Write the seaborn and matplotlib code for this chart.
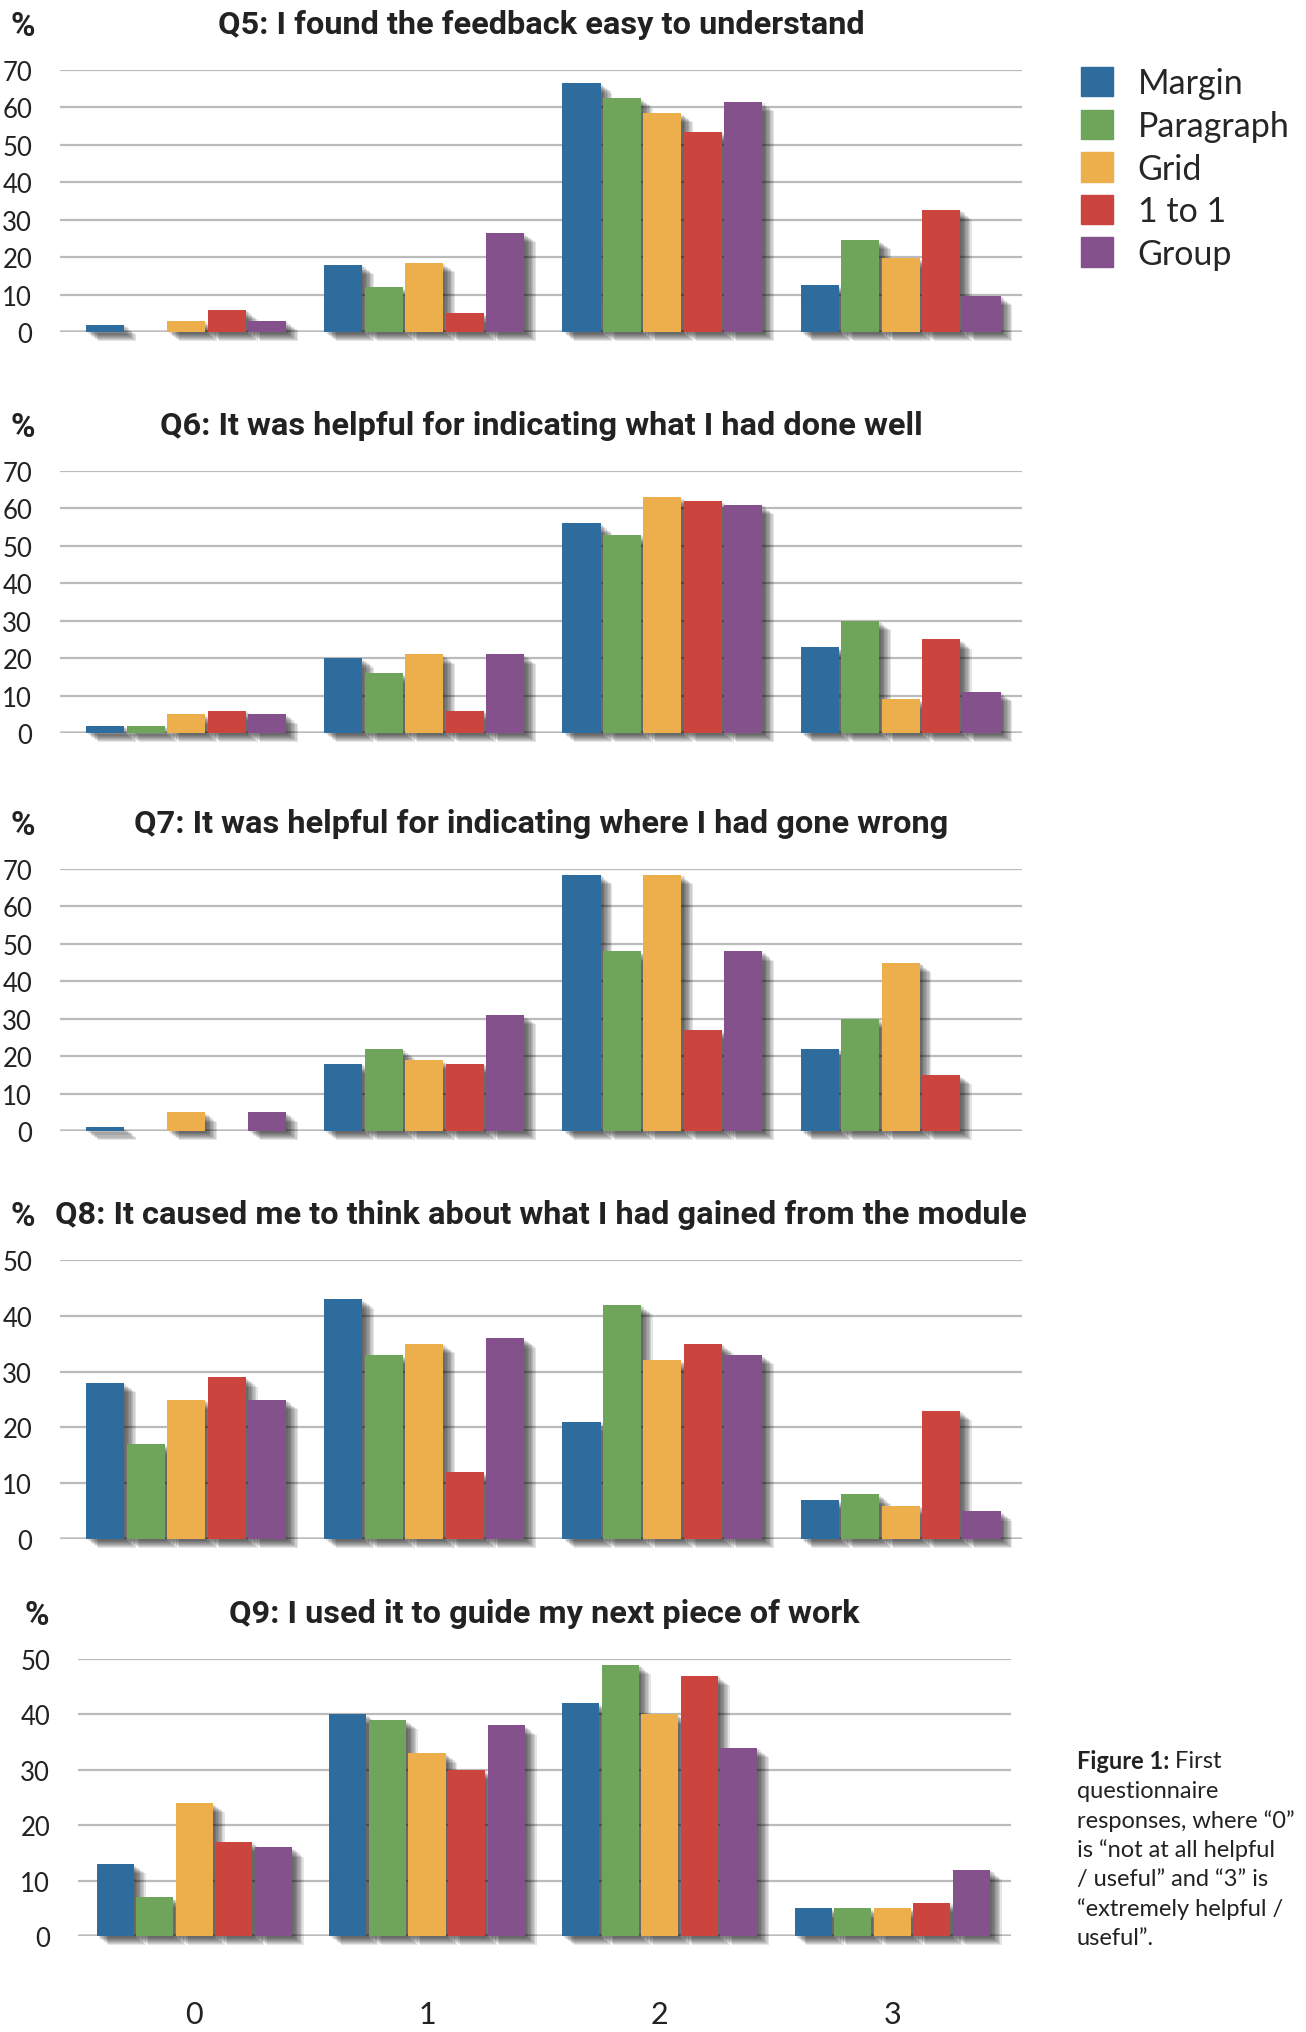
import numpy as np
import pandas as pd
import matplotlib
matplotlib.use("Agg")
import matplotlib.pyplot as plt
import matplotlib.patheffects as pe
import seaborn as sns

# feedback methods (hue) and rating categories (x)
methods = ['Margin', 'Paragraph', 'Grid', '1 to 1', 'Group']
colours = ['#2f6c9e', '#6ea55a', '#ecaf4b', '#cb443e', '#84518c']
ratings = ['0', '1', '2', '3']

# % of responses, one row per rating, columns in the order of `methods`
q5 = [[2, 0, 3, 6, 3],
      [18, 12, 18.5, 5, 26.5],
      [66.5, 62.5, 58.5, 53.5, 61.5],
      [12.6, 24.6, 19.7, 32.7, 9.7]]
q6 = [[2, 2, 5, 6, 5],
      [20, 16, 21, 6, 21],
      [56, 53, 63, 62, 61],
      [23, 30, 9, 25, 11]]
q7 = [[1, 0, 5, 0, 5],
      [18, 22, 19, 18, 31],
      [68.5, 48, 68.5, 27, 48],
      [22, 30, 45, 15, 0]]
q8 = [[28, 17, 25, 29, 25],
      [43, 33, 35, 12, 36],
      [21, 42, 32, 35, 33],
      [7, 8, 6, 23, 5]]
q9 = [[13, 7, 24, 17, 16],
      [40, 39, 33, 30, 38],
      [42, 49, 40, 47, 34],
      [5, 5, 5, 6, 12]]

titles = ['Q5: I found the feedback easy to understand',
          'Q6: It was helpful for indicating what I had done well',
          'Q7: It was helpful for indicating where I had gone wrong',
          'Q8: It caused me to think about what I had gained from the module',
          'Q9: I used it to guide my next piece of work']
questions = [q5, q6, q7, q8, q9]
ymax = [70, 70, 70, 50, 50]

caption = ['questionnaire',
           'responses, where \u201c0\u201d',
           'is \u201cnot at all helpful',
           '/ useful\u201d and \u201c3\u201d is',
           '\u201cextremely helpful /',
           'useful\u201d.']

sns.set_style('white')
plt.rcParams['font.family'] = ['Lato', 'DejaVu Sans']
TITLE_FONT = 'Roboto'

W, H = 1306, 2033
fig = plt.figure(figsize=(W / 100, H / 100), dpi=100)

# pixel boxes (left, right, top, bottom) of each panel
boxes = [(60, 1022, 71, 333),
         (60, 1022, 472, 734),
         (60, 1022, 870, 1132),
         (60, 1022, 1261, 1540),
         (78, 1011, 1660, 1937)]
xlims = [(-0.53, 3.51)] * 4 + [(-0.5, 3.51)]

shadow = [pe.SimplePatchShadow(offset=(d, -0.8 * d), shadow_rgbFace='black', alpha=0.1)
          for d in (1.5, 2.5, 3.5, 4.5, 5.5, 6.5, 7.5, 8.5)] + [pe.Normal()]

axes = []
for i, (q, title) in enumerate(zip(questions, titles)):
    l, r, t, b = boxes[i]
    ax = fig.add_axes([l / W, 1 - b / H, (r - l) / W, (b - t) / H])
    df = pd.DataFrame(q, index=ratings, columns=methods)
    df = df.reset_index().melt(id_vars='index', var_name='method', value_name='pct')
    df = df.rename(columns={'index': 'rating'})
    sns.barplot(data=df, x='rating', y='pct', hue='method', order=ratings,
                hue_order=methods, palette=colours, saturation=1,
                width=0.85, gap=0.06, linewidth=0, legend=False, ax=ax)
    for p in ax.patches:
        p.set_path_effects(shadow)
        p.set_clip_on(False)

    ax.set_ylim(0, ymax[i])
    ax.set_yticks(np.arange(0, ymax[i] + 1, 10))
    ax.set_xlim(*xlims[i])
    ax.set_axisbelow(True)
    ax.yaxis.grid(True, color='#bbbbbb', lw=1.6)
    ax.axhline(0, color='black', lw=2.4, zorder=0.5)
    sns.despine(ax=ax, left=True, bottom=True)
    ax.set_xlabel('')
    ax.set_ylabel('')
    ax.tick_params(axis='y', length=0, pad=20, labelsize=18.5, labelcolor='#222222')
    if i < 4:
        ax.tick_params(axis='x', length=0, labelbottom=False)
    else:
        ax.tick_params(axis='x', length=0, pad=46, labelsize=22, labelcolor='#222222')

    ax.annotate(title, xy=(0.5, 1), xycoords='axes fraction', xytext=(0, 33),
                textcoords='offset points', ha='center', va='center',
                fontsize=23.4, fontweight='bold', family=TITLE_FONT, color='#222222')
    ax.annotate('%', xy=(0, 1), xycoords='axes fraction', xytext=(-27 if i < 4 else -30, 32),
                textcoords='offset points', ha='center', va='center',
                fontsize=24, fontweight='bold', family=TITLE_FONT, color='#222222')
    axes.append(ax)

# legend at the top right
handles = [plt.Rectangle((0, 0), 1, 1, color=c) for c in colours]
fig.legend(handles, methods, loc='upper left', bbox_to_anchor=(1081 / W, 1 - 68 / H),
           frameon=False, fontsize=24.5, handlelength=0.95, handleheight=0.95,
           handletextpad=0.72, labelspacing=0.3, borderpad=0, borderaxespad=0)

# caption at bottom right
cx, cy, step = 1077, 1762, 29.5
bold = fig.text(cx / W, 1 - cy / H, 'Figure 1:', fontsize=17, fontweight='bold',
                va='center', ha='left', color='#222222')
fig.canvas.draw()
bb = bold.get_window_extent()
fig.text(bb.x1 / W, 1 - cy / H, ' First', fontsize=17, va='center', ha='left', color='#222222')
for k, line in enumerate(caption, start=1):
    fig.text(cx / W, 1 - (cy + k * step) / H, line, fontsize=17, va='center',
             ha='left', color='#222222')

fig.savefig('out.png', dpi=100)
